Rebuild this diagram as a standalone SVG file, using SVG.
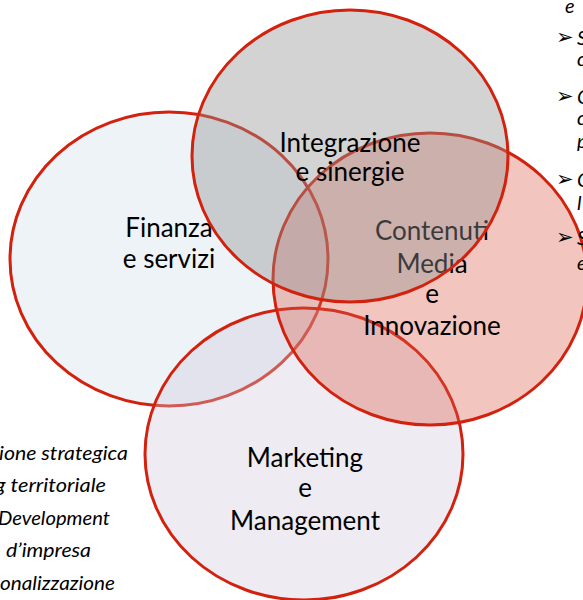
<svg xmlns="http://www.w3.org/2000/svg" width="583" height="600" viewBox="0 0 583 600">
<style>
.c{stroke:#D2220E;stroke-width:3}
.lbl{font-family:Lato,"Liberation Sans",sans-serif;font-size:26px;fill:#000;text-anchor:middle}
.side{font-family:Lato,"Liberation Sans",sans-serif;font-style:italic;font-size:20px;fill:#000}
.arr{font-family:"DejaVu Sans",sans-serif;font-size:21px;fill:#000}
</style>
<rect width="583" height="600" fill="#fff"/>
<g id="finanza">
<ellipse class="c" cx="169" cy="259" rx="159" ry="147" fill="#EEF3F8"/>
<text class="lbl" x="169" y="237">Finanza</text>
<text class="lbl" x="169" y="268">e servizi</text>
</g>
<g id="marketing">
<ellipse class="c" cx="304" cy="454" rx="159" ry="146" fill="rgb(206,198,218)" fill-opacity="0.35"/>
<text class="lbl" x="305" y="467">Marketing</text>
<text class="lbl" x="305" y="497">e</text>
<text class="lbl" x="305" y="530">Management</text>
</g>
<g id="contenuti">
<ellipse class="c" cx="430" cy="279" rx="157" ry="146" fill="rgb(218,89,72)" fill-opacity="0.35"/>
<text class="lbl" x="432" y="240">Contenuti</text>
<text class="lbl" x="432" y="273">Media</text>
<text class="lbl" x="432" y="303">e</text>
<text class="lbl" x="432" y="335">Innovazione</text>
</g>
<g id="integrazione">
<ellipse class="c" cx="350" cy="156" rx="158" ry="146" fill="rgb(145,145,145)" fill-opacity="0.4"/>
<text class="lbl" x="350" y="152">Integrazione</text>
<text class="lbl" x="350" y="181">e sinergie</text>
</g>
<g id="right-list">
<text class="side" x="565" y="13">e</text>
<text class="arr" x="556" y="44">➢</text><text class="side" x="577" y="45">S</text>
<text class="side" x="577" y="66">c</text>
<text class="arr" x="556" y="103">➢</text><text class="side" x="577" y="104">C</text>
<text class="side" x="577" y="125">c</text>
<text class="side" x="577" y="148">p</text>
<text class="arr" x="556" y="186">➢</text><text class="side" x="577" y="187">C</text>
<text class="side" x="577" y="210">l</text>
<text class="arr" x="556" y="244">➢</text><text class="side" x="577" y="245">S</text>
<text class="side" x="577" y="270">e</text>
</g>
<g id="left-list">
<text class="side" x="-1" y="460" textLength="129" lengthAdjust="spacingAndGlyphs">ione strategica</text>
<text class="side" x="-5" y="492" textLength="111" lengthAdjust="spacingAndGlyphs">g territoriale</text>
<text class="side" x="-2" y="525" textLength="112" lengthAdjust="spacingAndGlyphs">Development</text>
<text class="side" x="6" y="557" textLength="85" lengthAdjust="spacingAndGlyphs">d’impresa</text>
<text class="side" x="0" y="590" textLength="115" lengthAdjust="spacingAndGlyphs">onalizzazione</text>
</g>
</svg>
